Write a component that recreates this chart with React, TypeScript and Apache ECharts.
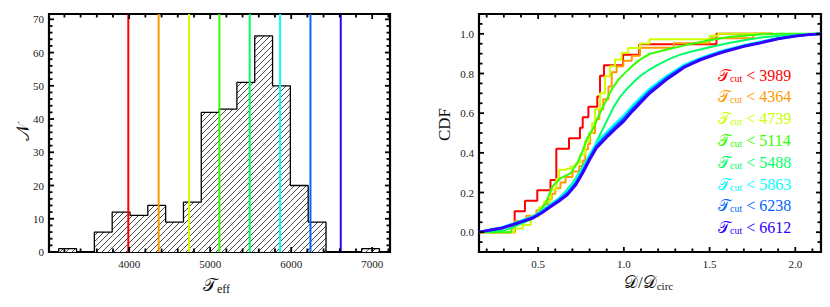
import React, { useEffect, useRef } from "react";
import * as echarts from "echarts";

// ---------- Data (left: histogram of T_eff) ----------
const binEdges = [3130, 3350, 3570, 3790, 4010, 4230, 4450, 4670, 4890, 5110, 5330, 5550, 5770, 5990, 6210, 6430, 6650, 6870, 7090];
const binCounts = [1, 0, 6, 12, 11, 14, 9, 15, 42, 43, 51, 65, 50, 20, 9, 0, 0, 1];
const cutValues = [3989, 4364, 4739, 5114, 5488, 5863, 6238, 6612];
const cutColors = ["#ff0000", "#ff9900", "#ccff00", "#33ff00", "#00ff66", "#00ffff", "#0066ff", "#3300ff"];

const histXMajor = [4000, 5000, 6000, 7000];
const histXMinor = [3200, 3400, 3600, 3800, 4200, 4400, 4600, 4800, 5200, 5400, 5600, 5800, 6200, 6400, 6600, 6800, 7200];
const histYMajor = [0, 10, 20, 30, 40, 50, 60, 70];
const histYMinor = [2, 4, 6, 8, 12, 14, 16, 18, 22, 24, 26, 28, 32, 34, 36, 38, 42, 44, 46, 48, 52, 54, 56, 58, 62, 64, 66, 68];

// ---------- Data (right: CDFs of D/D_circ) ----------
const cdfRed = [[0.155, 0], [0.363, 0.105], [0.423, 0.158], [0.495, 0.211], [0.572, 0.263], [0.606, 0.421], [0.68, 0.474], [0.744, 0.526], [0.76, 0.579], [0.793, 0.632], [0.845, 0.684], [0.861, 0.789], [0.884, 0.842], [0.995, 0.895], [1.09, 0.947], [1.54, 1.0], [1.87, 1.0]];
const cdfOrange = [[0.155, 0], [0.363, 0.056], [0.43, 0.083], [0.49, 0.111], [0.53, 0.139], [0.56, 0.167], [0.58, 0.194], [0.6, 0.222], [0.63, 0.25], [0.66, 0.278], [0.7, 0.306], [0.74, 0.333], [0.76, 0.361], [0.775, 0.417], [0.79, 0.444], [0.803, 0.5], [0.832, 0.57], [0.857, 0.62], [0.88, 0.67], [0.91, 0.735], [0.929, 0.806], [0.958, 0.836], [0.997, 0.864], [1.046, 0.889], [1.094, 0.93], [1.29, 0.952], [1.5, 0.978], [1.755, 1.0], [1.87, 1.0]];
const cdfYellow = [[0.155, 0], [0.36, 0.018], [0.41, 0.036], [0.457, 0.079], [0.505, 0.126], [0.534, 0.155], [0.573, 0.214], [0.606, 0.268], [0.622, 0.315], [0.664, 0.32], [0.69, 0.331], [0.719, 0.348], [0.744, 0.39], [0.773, 0.458], [0.797, 0.5], [0.815, 0.55], [0.832, 0.62], [0.861, 0.7], [0.89, 0.786], [0.919, 0.836], [0.948, 0.87], [0.987, 0.904], [1.026, 0.929], [1.094, 0.951], [1.15, 0.973], [1.5, 0.99], [1.55, 1.0], [1.87, 1.0]];
const cdfGreen = [[0.155, 0], [0.34, 0], [0.35, 0.028], [0.43, 0.06], [0.5, 0.096], [0.544, 0.146], [0.583, 0.23], [0.632, 0.273], [0.69, 0.298], [0.728, 0.348], [0.758, 0.407], [0.787, 0.475], [0.826, 0.53], [0.851, 0.584], [0.89, 0.652], [0.929, 0.719], [0.968, 0.769], [1.007, 0.803], [1.046, 0.836], [1.094, 0.87], [1.153, 0.9], [1.27, 0.925], [1.386, 0.948], [1.5, 0.968], [1.62, 0.985], [1.81, 0.998], [1.9, 1.0], [2.15, 1.0]];
const cdfSpring = [[0.155, 0], [0.3, 0.008], [0.36, 0.028], [0.42, 0.05], [0.48, 0.075], [0.53, 0.105], [0.58, 0.14], [0.622, 0.17], [0.66, 0.205], [0.7, 0.247], [0.738, 0.298], [0.777, 0.357], [0.816, 0.41], [0.86, 0.49], [0.9, 0.56], [0.94, 0.63], [0.98, 0.685], [1.02, 0.725], [1.06, 0.76], [1.1, 0.79], [1.15, 0.82], [1.2, 0.845], [1.27, 0.875], [1.33, 0.895], [1.39, 0.91], [1.5, 0.932], [1.62, 0.955], [1.72, 0.97], [1.81, 0.983], [1.95, 0.993], [2.12, 1.0], [2.15, 1.0]];
const cdfCyan = [[0.155, 0], [0.23, 0.014], [0.29, 0.024], [0.35, 0.042], [0.41, 0.06], [0.47, 0.08], [0.52, 0.107], [0.57, 0.139], [0.62, 0.17], [0.67, 0.206], [0.72, 0.259], [0.76, 0.32], [0.8, 0.388], [0.84, 0.448], [0.9, 0.504], [0.95, 0.547], [1.0, 0.588], [1.05, 0.637], [1.1, 0.681], [1.15, 0.722], [1.2, 0.755], [1.25, 0.787], [1.3, 0.815], [1.35, 0.842], [1.4, 0.861], [1.45, 0.879], [1.5, 0.893], [1.55, 0.907], [1.6, 0.92], [1.7, 0.942], [1.8, 0.96], [1.9, 0.978], [2.0, 0.99], [2.08, 0.997], [2.15, 1.0]];
const cdfAzure = [[0.155, 0], [0.23, 0.013], [0.29, 0.022], [0.35, 0.039], [0.41, 0.057], [0.47, 0.075], [0.52, 0.101], [0.57, 0.132], [0.62, 0.162], [0.67, 0.196], [0.72, 0.248], [0.76, 0.308], [0.8, 0.375], [0.84, 0.435], [0.9, 0.49], [0.95, 0.532], [1.0, 0.573], [1.05, 0.622], [1.1, 0.667], [1.15, 0.71], [1.2, 0.744], [1.25, 0.778], [1.3, 0.806], [1.35, 0.835], [1.4, 0.855], [1.45, 0.874], [1.5, 0.888], [1.55, 0.903], [1.6, 0.916], [1.7, 0.939], [1.8, 0.957], [1.9, 0.976], [2.0, 0.989], [2.08, 0.996], [2.15, 1.0]];
const cdfBlue = [[0.155, 0], [0.23, 0.012], [0.29, 0.02], [0.35, 0.037], [0.41, 0.054], [0.47, 0.071], [0.52, 0.096], [0.57, 0.126], [0.62, 0.155], [0.67, 0.188], [0.72, 0.239], [0.76, 0.298], [0.8, 0.365], [0.84, 0.424], [0.9, 0.478], [0.95, 0.52], [1.0, 0.56], [1.05, 0.61], [1.1, 0.655], [1.15, 0.7], [1.2, 0.735], [1.25, 0.77], [1.3, 0.8], [1.35, 0.83], [1.4, 0.85], [1.45, 0.87], [1.5, 0.885], [1.55, 0.9], [1.6, 0.913], [1.7, 0.937], [1.8, 0.955], [1.9, 0.975], [2.0, 0.988], [2.08, 0.996], [2.15, 1.0]];
const cdfSeries = [cdfRed, cdfOrange, cdfYellow, cdfGreen, cdfSpring, cdfCyan, cdfAzure, cdfBlue];
const cdfStepped = [true, true, true, false, false, false, false, false];
const cdfWidths = [2, 2, 2, 2, 2, 2.5, 2.5, 2.8];

const cdfXMajor = [0.5, 1.0, 1.5, 2.0];
const cdfXMinor = [0.2, 0.3, 0.4, 0.6, 0.7, 0.8, 0.9, 1.1, 1.2, 1.3, 1.4, 1.6, 1.7, 1.8, 1.9, 2.1];
const cdfYMajor = [0, 0.2, 0.4, 0.6, 0.8, 1.0];
const cdfYMinor = [-0.05, 0.05, 0.1, 0.15, 0.25, 0.3, 0.35, 0.45, 0.5, 0.55, 0.65, 0.7, 0.75, 0.85, 0.9, 0.95, 1.05];

const FONT = '"Liberation Serif", "Times New Roman", serif';

function axisOf(gridIndex: number, min: number, max: number, labels: number[], fmt: (v: number) => string, isX: boolean) {
  return {
    type: "value",
    gridIndex,
    min,
    max,
    position: isX ? "bottom" : "left",
    splitLine: { show: false },
    axisLine: { show: false, onZero: false },
    axisTick: { show: false },
    minorTick: { show: false },
    axisLabel: { show: true, customValues: labels, formatter: fmt, fontFamily: FONT, fontSize: 11, color: "#222", margin: isX ? 6 : 5 },
  };
}

// Frame ticks drawn through the axis scales (api.coord), on all four sides, pointing inward.
function tickSeries(axisIndex: number, isX: boolean, majors: number[], minors: number[], lo: number, hi: number) {
  const items = [...majors.map((v) => [v, 1]), ...minors.map((v) => [v, 0])];
  return {
    type: "custom",
    xAxisIndex: axisIndex,
    yAxisIndex: axisIndex,
    silent: true,
    z: 10,
    clip: false,
    data: items.map(([v, m]) => (isX ? [v, lo, m] : [lo, v, m])),
    encode: { x: 0, y: 1 },
    renderItem: (params: any, api: any) => {
      const len = api.value(2) === 1 ? 5 : 3.5;
      const st = { stroke: "#000", lineWidth: 1.8 };
      if (isX) {
        const v = api.value(0);
        const b = api.coord([v, lo]);
        const t = api.coord([v, hi]);
        return {
          type: "group",
          children: [
            { type: "line", shape: { x1: b[0], y1: b[1], x2: b[0], y2: b[1] - len }, style: st },
            { type: "line", shape: { x1: t[0], y1: t[1], x2: t[0], y2: t[1] + len }, style: st },
          ],
        };
      }
      const v = api.value(1);
      const l = api.coord([lo, v]);
      const r = api.coord([hi, v]);
      return {
        type: "group",
        children: [
          { type: "line", shape: { x1: l[0], y1: l[1], x2: l[0] + len, y2: l[1] }, style: st },
          { type: "line", shape: { x1: r[0], y1: r[1], x2: r[0] - len, y2: r[1] }, style: st },
        ],
      };
    },
  };
}

function makeHatch() {
  const s = 6;
  const c = document.createElement("canvas");
  c.width = s;
  c.height = s;
  const g = c.getContext("2d")!;
  g.fillStyle = "#ffffff";
  g.fillRect(0, 0, s, s);
  g.strokeStyle = "#333333";
  g.lineWidth = 0.9;
  g.beginPath();
  g.moveTo(0, s); g.lineTo(s, 0);
  g.moveTo(-s / 2, s / 2); g.lineTo(s / 2, -s / 2);
  g.moveTo(s / 2, s * 1.5); g.lineTo(s * 1.5, s / 2);
  g.stroke();
  return { image: c, repeat: "repeat", imageWidth: s, imageHeight: s };
}

function subText(main: string, sub: string, rest: string, size: number, subSize: number, color: string) {
  return {
    text: `{m|${main}}{s|${sub}}{r|${rest}}`,
    rich: {
      m: { fontSize: size, fontFamily: FONT, fill: color, lineHeight: size + 2, verticalAlign: "top" },
      s: { fontSize: subSize, fontFamily: FONT, fill: color, lineHeight: subSize + 1, padding: [Math.round(size * 0.38), 0, 0, 0], verticalAlign: "top" },
      r: { fontSize: size, fontFamily: FONT, fill: color, lineHeight: size + 2, verticalAlign: "top" },
    },
  };
}

export default function App() {
  const ref = useRef<HTMLDivElement>(null);
  useEffect(() => {
    document.body.style.margin = "0";
    const chart = echarts.init(ref.current!, null, { renderer: "svg" });
    const hatch = makeHatch();
    const hX: [number, number] = [3010, 7220];
    const hY: [number, number] = [0, 71.6];
    const cX: [number, number] = [0.155, 2.15];
    const cY: [number, number] = [-0.1, 1.1];

    const outline: number[][] = [[binEdges[0], 0]];
    binCounts.forEach((c, i) => {
      outline.push([binEdges[i], c]);
      outline.push([binEdges[i + 1], c]);
    });
    outline.push([binEdges[binEdges.length - 1], 0]);

    const series: any[] = [
      {
        type: "custom",
        xAxisIndex: 0,
        yAxisIndex: 0,
        silent: true,
        z: 1,
        data: binCounts.map((c, i) => [binEdges[i], binEdges[i + 1], c]),
        encode: { x: [0, 1], y: 2 },
        renderItem: (params: any, api: any) => {
          const h = api.value(2);
          if (!h) return { type: "group", children: [] };
          const p0 = api.coord([api.value(0), h]);
          const p1 = api.coord([api.value(1), 0]);
          return {
            type: "rect",
            shape: { x: p0[0], y: p0[1], width: p1[0] - p0[0], height: p1[1] - p0[1] },
            style: { fill: hatch, stroke: null },
          };
        },
      },
      {
        type: "line",
        xAxisIndex: 0,
        yAxisIndex: 0,
        data: outline,
        symbol: "none",
        silent: true,
        z: 3,
        lineStyle: { color: "#000", width: 1.3 },
      },
      ...cutValues.map((v, i) => ({
        type: "line",
        xAxisIndex: 0,
        yAxisIndex: 0,
        data: [[v, hY[0]], [v, hY[1]]],
        symbol: "none",
        silent: true,
        z: 4,
        lineStyle: { color: cutColors[i], width: 2 },
      })),
      ...cdfSeries.map((d, i) => ({
        type: "line",
        xAxisIndex: 1,
        yAxisIndex: 1,
        data: d,
        step: cdfStepped[i] ? "end" : false,
        symbol: "none",
        silent: true,
        z: 3,
        lineStyle: { color: cutColors[i], width: cdfWidths[i] },
      })),
      tickSeries(0, true, histXMajor, histXMinor, hY[0], hY[1]),
      tickSeries(0, false, histYMajor, histYMinor, hX[0], hX[1]),
      tickSeries(1, true, cdfXMajor, cdfXMinor, cY[0], cY[1]),
      tickSeries(1, false, cdfYMajor, cdfYMinor, cX[0], cX[1]),
    ];

    const legendRows = cutValues.map((v, i) => ({
      type: "text",
      left: 718,
      top: 67 + i * 21.8,
      silent: true,
      style: subText("𝒯", "cut", ` < ${v}`, 16, 10, cutColors[i]),
    }));

    const titles = [
      { type: "text", left: 14, top: 124, rotation: Math.PI / 2, silent: true, style: { text: "𝒩", fontSize: 18, fontFamily: FONT, fill: "#111" } },
      { type: "text", left: 203, top: 276, silent: true, style: subText("𝒯", "eff", "", 18, 12, "#111") },
      { type: "text", left: 436, top: 108, rotation: Math.PI / 2, silent: true, style: { text: "CDF", fontSize: 17, fontFamily: FONT, fill: "#111" } },
      { type: "text", left: 624, top: 274, silent: true, style: subText("𝒟/𝒟", "circ", "", 17, 11, "#111") },
    ];

    chart.setOption({
      animation: false,
      backgroundColor: "#ffffff",
      grid: [
        { left: 49, top: 14, width: 341, height: 238, show: true, borderColor: "#000", borderWidth: 2.2, backgroundColor: "transparent" },
        { left: 479, top: 14, width: 342, height: 238, show: true, borderColor: "#000", borderWidth: 2.2, backgroundColor: "transparent" },
      ],
      xAxis: [
        axisOf(0, hX[0], hX[1], histXMajor, (v) => String(v), true),
        axisOf(1, cX[0], cX[1], cdfXMajor, (v) => v.toFixed(1), true),
      ],
      yAxis: [
        axisOf(0, hY[0], hY[1], histYMajor, (v) => String(v), false),
        axisOf(1, cY[0], cY[1], cdfYMajor, (v) => v.toFixed(1), false),
      ],
      series,
      graphic: [...legendRows, ...titles],
    });
    return () => chart.dispose();
  }, []);
  return <div ref={ref} style={{ width: 830, height: 307 }} />;
}
